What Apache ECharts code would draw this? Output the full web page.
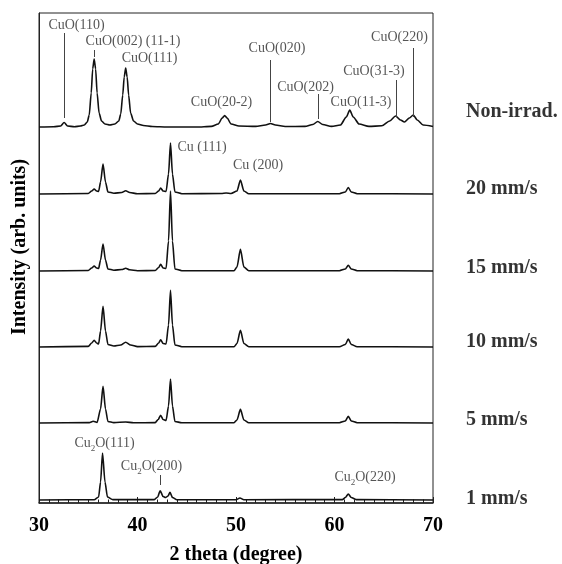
<!DOCTYPE html>
<html>
<head>
<meta charset="utf-8">
<script src="https://cdn.jsdelivr.net/npm/echarts@6/dist/echarts.min.js"></script>
<style>html,body{margin:0;padding:0;background:#fff}#c{width:562px;height:564px}</style>
</head>
<body>
<div id="c"></div>
<script>
// ---- DATA (2theta in degrees, intensity in arbitrary units above each trace's baseline) ----
const seriesNames = ['Non-irrad.', '20 mm/s', '15 mm/s', '10 mm/s', '5 mm/s', '1 mm/s'];
const baselineOffsets = [376, 309, 232, 156, 80, 3];
const labelHeights = [391, 314, 235, 161, 83, 4];

const nonIrrad = [[30,0],[31.5,0.3],[32.2,1],[32.55,4.5],[32.9,1],[33.6,0.3],[34.2,1],[34.6,2],[34.9,5],[35.1,12],[35.3,34],[35.45,58],[35.6,68],[35.75,58],[35.9,34],[36.1,14],[36.35,6],[36.7,3],[37.2,2],[37.7,3],[38.1,6],[38.3,13],[38.5,32],[38.65,50],[38.8,59],[38.95,50],[39.1,32],[39.3,14],[39.6,6],[40.0,3],[40.6,1.5],[41.5,0.5],[43,0],[46,0],[47.5,0.6],[48.2,3],[48.6,9],[48.85,11.5],[49.1,9],[49.5,3],[50.3,1],[52,0.6],[53.0,2],[53.5,3.5],[54.0,2],[55,0.5],[57,0.6],[57.8,2.5],[58.3,5.5],[58.8,2.5],[59.7,0.6],[60.6,2],[61.2,10],[61.55,17],[61.9,10],[62.5,3],[63.5,0.6],[64.8,1.2],[65.6,6],[66.2,11],[66.7,7],[67.1,5],[67.6,9],[68.0,12],[68.4,7],[69,2],[70,0.5]];
const mm20 = [[30,0],[35.0,0.5],[35.35,3],[35.6,5],[35.85,3],[36.05,2.5],[36.25,12],[36.5,30],[36.75,12],[37.0,2],[37.6,0.8],[38.4,1.5],[38.8,3.3],[39.2,1.5],[40,0.3],[41.8,0.5],[42.15,3],[42.35,6],[42.6,3],[42.9,2.5],[43.15,20],[43.35,51],[43.55,20],[43.8,2],[44.5,0.3],[48.5,0.5],[49.0,1],[49.5,0.5],[50.1,3],[50.45,14],[50.8,3],[51.3,0.3],[60.5,0.3],[61.1,2],[61.4,6.5],[61.7,2],[62.3,0.3],[70,0]];
const mm15 = [[30,0],[35.0,0.5],[35.35,3],[35.6,5],[35.85,3],[36.05,2.5],[36.25,11],[36.5,27],[36.75,11],[37.0,2],[37.6,0.8],[38.4,1.5],[38.8,2.7],[39.2,1.2],[40,0.3],[41.8,0.5],[42.15,3.5],[42.35,6.7],[42.6,3],[42.9,2.5],[43.15,30],[43.35,80],[43.55,30],[43.8,2],[44.5,0.3],[49.8,0.3],[50.1,4],[50.45,21.7],[50.8,4],[51.3,0.3],[60.5,0.3],[61.1,2],[61.4,5.7],[61.7,2],[62.3,0.3],[70,0]];
const mm10 = [[30,0],[35.0,0.6],[35.35,4],[35.6,6.7],[35.85,4],[36.05,3],[36.25,16],[36.5,40.7],[36.75,16],[37.0,2.5],[37.6,1],[38.3,2],[38.8,4.7],[39.3,2],[40,0.4],[41.8,0.6],[42.15,4],[42.35,7.3],[42.6,3.5],[42.9,3],[43.15,22],[43.35,56.7],[43.55,22],[43.8,2],[44.5,0.3],[49.8,0.3],[50.1,3.5],[50.45,16.7],[50.8,3.5],[51.3,0.3],[60.5,0.3],[61.1,2.5],[61.4,8],[61.7,2.5],[62.3,0.3],[70,0]];
const mm5 = [[30,0],[35.1,0.4],[35.5,1.7],[35.9,0.6],[36.25,14],[36.5,36.7],[36.75,14],[37.0,1.5],[37.6,0.4],[38.8,1],[39.6,0.2],[41.8,0.4],[42.1,3.5],[42.35,7.7],[42.6,3.5],[42.9,2.5],[43.15,17],[43.35,44],[43.55,17],[43.8,1.5],[44.5,0.2],[49.8,0.3],[50.1,3],[50.45,13.7],[50.8,3],[51.3,0.3],[60.5,0.3],[61.1,2],[61.4,6.7],[61.7,2],[62.3,0.3],[70,0]];
const mm1 = [[30,0],[35.6,0.3],[36.05,3],[36.25,18],[36.45,47],[36.7,18],[36.95,3],[37.5,0.4],[41.7,0.4],[42.05,3],[42.3,9.3],[42.6,3.5],[42.85,2.5],[43.1,4],[43.3,7.7],[43.55,2.5],[44.0,0.3],[50.0,0.3],[50.4,2],[50.8,0.3],[60.8,0.4],[61.1,2.5],[61.4,6],[61.7,2.5],[62.2,0.4],[70,0]];
const traces = [nonIrrad, mm20, mm15, mm10, mm5, mm1];

// annotations: [text (rich), 2theta, height]
const annotations = [
  ['CuO(110)', 33.81, 478],
  ['CuO(002) (11-1)', 39.54, 462],
  ['CuO(111)', 41.22, 445],
  ['CuO(20-2)', 48.53, 401],
  ['CuO(020)', 54.16, 455],
  ['CuO(202)', 57.06, 416],
  ['CuO(11-3)', 62.69, 401],
  ['CuO(31-3)', 64.01, 432],
  ['CuO(220)', 66.6, 465.5],
  ['Cu (111)', 46.55, 356],
  ['Cu (200)', 52.23, 338],
  ['{n|Cu}{s|2}{n|O(111)}', 36.65, 61],
  ['{n|Cu}{s|2}{n|O(200)}', 41.42, 38],
  ['{n|Cu}{s|2}{n|O(220)}', 63.1, 27]
];
// leader lines: [2theta, fromHeight, toHeight]
const leaders = [
  [32.57, 470, 385],
  [35.6, 453, 446],
  [53.52, 443, 381],
  [58.36, 409, 384],
  [66.3, 423, 386],
  [68.0, 455, 386],
  [42.3, 28, 18]
];
const xTicks = [30, 40, 50, 60, 70];

// ---- CHART ----
const FONT = '"Liberation Serif", "Times New Roman", serif';
const chart = echarts.init(document.getElementById('c'), null, {renderer: 'canvas'});

const series = traces.map((t, i) => ({
  type: 'line',
  name: seriesNames[i],
  data: t.map(p => [p[0], p[1] + baselineOffsets[i]]),
  showSymbol: false,
  symbol: 'none',
  smooth: 0.25,
  smoothMonotone: 'x',
  lineStyle: {color: '#111', width: 1.6},
  z: 3
}));

series.push({
  type: 'line',
  data: [],
  silent: true,
  markLine: {
    symbol: ['none', 'none'],
    silent: true,
    label: {show: false},
    lineStyle: {color: '#444', width: 1, type: 'solid'},
    data: leaders.map(l => [{coord: [l[0], l[1]]}, {coord: [l[0], l[2]]}])
  }
});

series.push({
  type: 'scatter',
  symbolSize: 0,
  clip: false,
  silent: true,
  data: annotations.map(a => ({value: [a[1], a[2]], name: a[0]})),
  label: {
    show: true,
    position: 'inside',
    formatter: p => p.name,
    fontFamily: FONT,
    fontSize: 14,
    color: '#2a2a2a',
    rich: {
      n: {fontFamily: FONT, fontSize: 14, color: '#2a2a2a', lineHeight: 16, verticalAlign: 'bottom'},
      s: {fontFamily: FONT, fontSize: 9, color: '#2a2a2a', lineHeight: 9, verticalAlign: 'bottom', padding: [0, 0, -3, 0]}
    }
  }
});

series.push({
  type: 'scatter',
  symbolSize: 0,
  clip: false,
  silent: true,
  data: seriesNames.map((n, i) => ({value: [73.35, labelHeights[i]], name: n})),
  label: {
    show: true,
    position: 'right',
    distance: 0,
    formatter: p => p.name,
    fontFamily: FONT,
    fontSize: 20,
    fontWeight: 'bold',
    color: '#000'
  }
});

chart.setOption({
  animation: false,
  backgroundColor: '#fff',
  grid: {left: 39, right: 129, top: 13, bottom: 61, outerBoundsMode: 'none', containLabel: false,
    show: true, borderColor: '#222', borderWidth: 1, backgroundColor: 'transparent'},
  xAxis: {
    type: 'value', min: 30, max: 70, interval: 10,
    name: '2 theta (degree)', nameLocation: 'middle', nameGap: 42,
    nameTextStyle: {fontFamily: FONT, fontSize: 20, fontWeight: 'bold', color: '#000'},
    axisLine: {show: true, lineStyle: {color: '#222', width: 1.5}},
    axisTick: {show: true, inside: true, length: 6, lineStyle: {color: '#222'}},
    minorTick: {show: true, splitNumber: 10, length: 3.5, lineStyle: {color: '#222'}},
    splitLine: {show: false},
    axisLabel: {margin: 13, fontFamily: FONT, fontSize: 20, fontWeight: 'bold', color: '#000',
      formatter: v => xTicks.includes(v) ? String(v) : ''}
  },
  yAxis: {
    type: 'value', min: 0, max: 490,
    name: 'Intensity (arb. units)', nameLocation: 'middle', nameGap: 9,
    nameTextStyle: {fontFamily: FONT, fontSize: 20, fontWeight: 'bold', color: '#000', padding: [0, 0, 0, 22]},
    axisLine: {show: true, lineStyle: {color: '#222', width: 1}},
    axisTick: {show: false},
    axisLabel: {show: false},
    splitLine: {show: false}
  },
  series: series
});
</script>
</body>
</html>
